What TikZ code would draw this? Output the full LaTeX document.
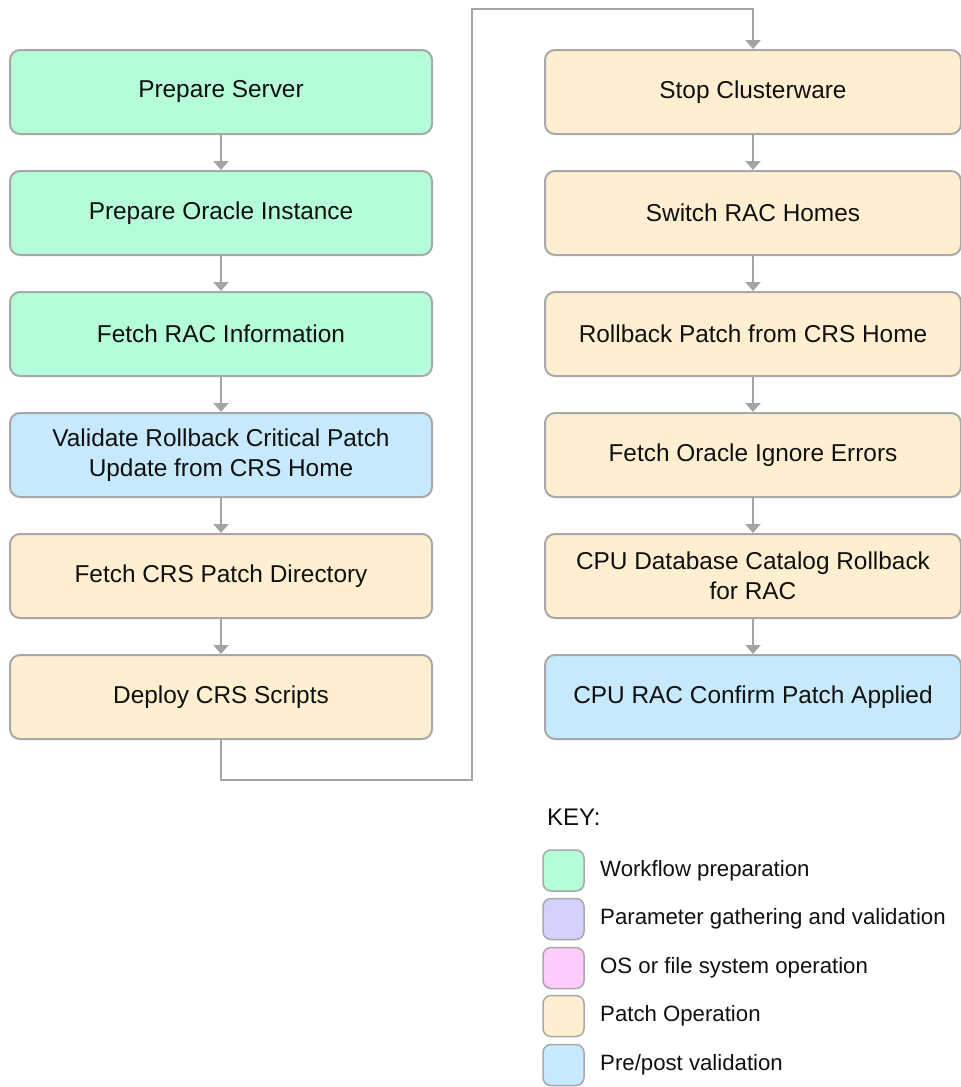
\documentclass[tikz,border=0pt]{standalone}
\usepackage{fontspec}
\setmainfont{Liberation Sans}
\usetikzlibrary{arrows.meta}
\definecolor{wfgreen}{HTML}{B4FDD8}
\definecolor{valblue}{HTML}{C6E9FE}
\definecolor{patchor}{HTML}{FEEFD0}
\definecolor{parpurp}{HTML}{D2D2FC}
\definecolor{ospink}{HTML}{FDCBFC}
\definecolor{edgegray}{HTML}{A8A8A8}
\definecolor{linegray}{HTML}{A4A4A4}
\definecolor{txt}{HTML}{101010}
\tikzset{
  box/.style={draw=edgegray, line width=2pt, rounded corners=10pt, minimum height=84pt,
    align=center, text=txt, font=\fontsize{24.4}{30}\selectfont, inner sep=0pt},
  lbox/.style={box, minimum width=422pt},
  rbox/.style={box, minimum width=416pt},
  conn/.style={draw=linegray, line width=2.5pt, -{Triangle[width=15pt,length=9pt]}},
  swatch/.style={draw=edgegray, line width=1.5pt, rounded corners=8pt, minimum width=41pt, minimum height=41pt, inner sep=0pt},
  keytext/.style={anchor=west, text=txt, font=\fontsize{22.2}{26}\selectfont, inner sep=0pt}
}
\begin{document}
\begin{tikzpicture}[x=1pt,y=-1pt]
\useasboundingbox (0,0) rectangle (961,1087);
% left column
\node[lbox, fill=wfgreen] (l1) at (221,92) {Prepare Server};
\node[lbox, fill=wfgreen] (l2) at (221,213) {Prepare Oracle Instance};
\node[lbox, fill=wfgreen] (l3) at (221,334) {Fetch RAC Information};
\node[lbox, fill=valblue] (l4) at (221,455) {Validate Rollback Critical Patch\\Update from CRS Home};
\node[lbox, fill=patchor] (l5) at (221,576) {Fetch CRS Patch Directory};
\node[lbox, fill=patchor] (l6) at (221,697) {Deploy CRS Scripts};
% right column
\node[rbox, fill=patchor] (r1) at (753,92) {Stop Clusterware};
\node[rbox, fill=patchor] (r2) at (753,213) {Switch RAC Homes};
\node[rbox, fill=patchor] (r3) at (753,334) {Rollback Patch from CRS Home};
\node[rbox, fill=patchor] (r4) at (753,455) {Fetch Oracle Ignore Errors};
\node[rbox, fill=patchor] (r5) at (753,576) {CPU Database Catalog Rollback\\for RAC};
\node[rbox, fill=valblue] (r6) at (753,697) {CPU RAC Confirm Patch Applied};
% connectors
\draw[conn] (l1) -- (l2);
\draw[conn] (l2) -- (l3);
\draw[conn] (l3) -- (l4);
\draw[conn] (l4) -- (l5);
\draw[conn] (l5) -- (l6);
\coordinate (c1) at (221,780);
\coordinate (c2) at (472,780);
\coordinate (c3) at (472,9);
\coordinate (c4) at (753,9);
\draw[conn, line join=miter] (l6.south) -- (c1) -- (c2) -- (c3) -- (c4) -- (r1.north);
\draw[conn] (r1) -- (r2);
\draw[conn] (r2) -- (r3);
\draw[conn] (r3) -- (r4);
\draw[conn] (r4) -- (r5);
\draw[conn] (r5) -- (r6);
% key
\node[anchor=west, text=txt, font=\fontsize{24}{28}\selectfont, inner sep=0pt] (keyt) at (547,817) {KEY:};
\node[swatch, fill=wfgreen] (k1) at (563.5,870.5) {};
\node[swatch, fill=parpurp] (k2) at (563.5,919) {};
\node[swatch, fill=ospink] (k3) at (563.5,968) {};
\node[swatch, fill=patchor] (k4) at (563.5,1016) {};
\node[swatch, fill=valblue] (k5) at (563.5,1065) {};
\node[keytext] (kt1) at (600,870.5) {Workflow preparation};
\node[keytext] (kt2) at (600,919) {Parameter gathering and validation};
\node[keytext] (kt3) at (600,968) {OS or file system operation};
\node[keytext] (kt4) at (600,1016) {Patch Operation};
\node[keytext] (kt5) at (600,1065) {Pre/post validation};
\end{tikzpicture}
\end{document}
